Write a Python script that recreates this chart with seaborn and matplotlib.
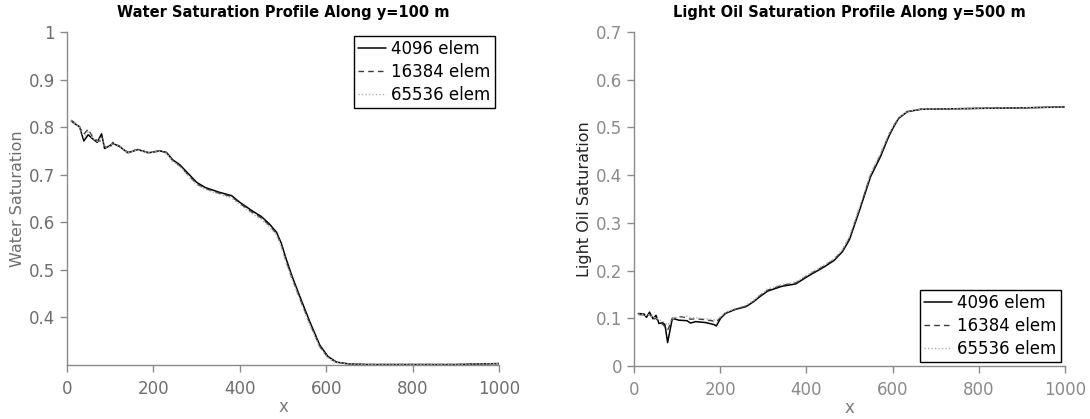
import matplotlib
matplotlib.use("Agg")
import matplotlib.pyplot as plt
import seaborn as sns
import pandas as pd
from matplotlib.ticker import FuncFormatter

# ---------------- data ----------------
series_labels = ["4096 elem", "16384 elem", "65536 elem"]

water_x = [10, 20, 29, 39, 49, 60, 70, 80, 87, 99, 106, 122, 141, 164, 188, 215, 230, 245,
           261, 280, 300, 320, 353, 381, 400, 427, 450, 469, 485, 496, 508, 522, 539, 562,
           585, 604, 624, 654, 700, 800, 900, 1000]
water_4096 = [0.813, 0.806, 0.801, 0.771, 0.784, 0.775, 0.768, 0.786, 0.755, 0.761, 0.766,
              0.759, 0.746, 0.753, 0.746, 0.750, 0.747, 0.731, 0.721, 0.703, 0.684, 0.673,
              0.663, 0.656, 0.642, 0.625, 0.612, 0.596, 0.579, 0.556, 0.521, 0.484, 0.444,
              0.391, 0.342, 0.318, 0.306, 0.302, 0.301, 0.301, 0.301, 0.303]
water_16384 = [0.815, 0.807, 0.800, 0.785, 0.796, 0.778, 0.772, 0.770, 0.760, 0.756, 0.768,
               0.760, 0.747, 0.753, 0.747, 0.750, 0.746, 0.729, 0.719, 0.700, 0.681, 0.671,
               0.661, 0.654, 0.640, 0.622, 0.609, 0.593, 0.576, 0.552, 0.516, 0.480, 0.440,
               0.387, 0.339, 0.316, 0.305, 0.302, 0.301, 0.301, 0.301, 0.303]
water_65536 = [0.814, 0.806, 0.800, 0.778, 0.790, 0.776, 0.770, 0.778, 0.758, 0.759, 0.767,
               0.760, 0.746, 0.752, 0.746, 0.749, 0.745, 0.728, 0.717, 0.698, 0.679, 0.669,
               0.659, 0.651, 0.637, 0.619, 0.606, 0.590, 0.573, 0.549, 0.513, 0.477, 0.437,
               0.384, 0.337, 0.315, 0.305, 0.302, 0.301, 0.301, 0.301, 0.303]

oil_x = [10, 23, 29, 36, 44, 51, 58, 67, 72, 78, 89, 104, 123, 131, 143, 166, 185, 191, 201,
         212, 236, 259, 278, 290, 310, 343, 375, 407, 440, 464, 484, 500, 525, 549, 572, 591,
         603, 614, 634, 665, 804, 900, 1000]
oil_4096 = [0.110, 0.109, 0.102, 0.113, 0.099, 0.106, 0.089, 0.091, 0.086, 0.049, 0.100, 0.096,
            0.095, 0.090, 0.093, 0.091, 0.087, 0.084, 0.100, 0.110, 0.119, 0.124, 0.135, 0.144,
            0.157, 0.167, 0.172, 0.190, 0.207, 0.221, 0.240, 0.265, 0.331, 0.397, 0.439, 0.481,
            0.502, 0.519, 0.533, 0.538, 0.540, 0.541, 0.543]
oil_16384 = [0.108, 0.107, 0.104, 0.109, 0.098, 0.100, 0.093, 0.087, 0.082, 0.075, 0.098, 0.104,
             0.101, 0.098, 0.099, 0.097, 0.094, 0.092, 0.102, 0.111, 0.119, 0.125, 0.136, 0.146,
             0.159, 0.169, 0.174, 0.192, 0.209, 0.223, 0.242, 0.268, 0.334, 0.400, 0.442, 0.483,
             0.504, 0.520, 0.533, 0.538, 0.540, 0.541, 0.543]
oil_65536 = [0.109, 0.108, 0.105, 0.108, 0.101, 0.102, 0.097, 0.093, 0.090, 0.086, 0.099, 0.103,
             0.104, 0.101, 0.101, 0.099, 0.097, 0.096, 0.104, 0.112, 0.121, 0.127, 0.138, 0.148,
             0.161, 0.171, 0.176, 0.194, 0.211, 0.225, 0.245, 0.272, 0.338, 0.404, 0.446, 0.486,
             0.506, 0.521, 0.534, 0.538, 0.540, 0.541, 0.543]

x_ticks = [0, 200, 400, 600, 800, 1000]
water_yticks = [0.4, 0.5, 0.6, 0.7, 0.8, 0.9, 1.0]
oil_yticks = [0, 0.1, 0.2, 0.3, 0.4, 0.5, 0.6, 0.7]

# ---------------- styling ----------------
sns.set_style("ticks")
plt.rcParams["font.family"] = ["DejaVu Sans"]

line_styles = {
    "4096 elem": dict(color="black", linestyle="-", linewidth=1.1),
    "16384 elem": dict(color="#3a3a3a", linestyle=(0, (4, 3)), linewidth=1.0),
    "65536 elem": dict(color="#b0b0b0", linestyle=(0, (1, 1.5)), linewidth=1.0),
}

fig = plt.figure(figsize=(10.9, 4.19), dpi=100)
W, H = 1090, 419
ax1 = fig.add_axes([67 / W, 1 - 365 / H, (499 - 67) / W, (365 - 32) / H])
ax2 = fig.add_axes([634 / W, 1 - 366 / H, (1065 - 634) / W, (366 - 32) / H])


def long_frame(x, ys):
    rows = []
    for lab, vals in zip(series_labels, ys):
        for xv, yv in zip(x, vals):
            rows.append({"x": xv, "value": yv, "series": lab})
    return pd.DataFrame(rows)


df_w = long_frame(water_x, [water_4096, water_16384, water_65536])
df_o = long_frame(oil_x, [oil_4096, oil_16384, oil_65536])

for ax, df in [(ax1, df_w), (ax2, df_o)]:
    for lab in series_labels:
        sub = df[df["series"] == lab]
        sns.lineplot(data=sub, x="x", y="value", ax=ax, label=lab,
                     estimator=None, sort=False, **line_styles[lab])


def style_axes(ax, yticks, ylim, tick_col, ylab_col, title, ylabel):
    ax.set_xlim(0, 1000)
    ax.set_ylim(*ylim)
    ax.set_xticks(x_ticks)
    ax.set_yticks(yticks)
    ax.yaxis.set_major_formatter(FuncFormatter(lambda v, p: f"{v:g}"))
    for s in ["top", "right"]:
        ax.spines[s].set_visible(False)
    for s in ["left", "bottom"]:
        ax.spines[s].set_color("#8a8a8a")
        ax.spines[s].set_linewidth(1.0)
    ax.tick_params(axis="both", direction="out", length=5, width=1.0,
                   color="#8a8a8a", labelcolor=tick_col, labelsize=12)
    ax.tick_params(axis="x", pad=6)
    ax.set_xlabel("x", fontsize=12, color="#7a7a7a", labelpad=0)
    ax.set_ylabel(ylabel, fontsize=11.5, color=ylab_col, labelpad=3)
    ax.set_title(title, fontsize=10.5, fontweight="bold", color="black", pad=11)


style_axes(ax1, water_yticks, (0.3, 1.0), "#6e6e6e", "#6e6e6e",
           "Water Saturation Profile Along y=100 m", "Water Saturation")
style_axes(ax2, oil_yticks, (0, 0.7), "#8a8a8a", "#222222",
           "Light Oil Saturation Profile Along y=500 m", "Light Oil Saturation")

for ax, loc in [(ax1, "upper right"), (ax2, "lower right")]:
    leg = ax.legend(loc=loc, fontsize=12, frameon=True, fancybox=False, framealpha=1,
                    edgecolor="black", handlelength=1.7, handletextpad=0.3,
                    labelspacing=0.3, borderpad=0.25, borderaxespad=0.25)
    leg.get_frame().set_linewidth(1.0)
    for t in leg.get_texts():
        t.set_color("black")

fig.savefig("out.png", dpi=100)
